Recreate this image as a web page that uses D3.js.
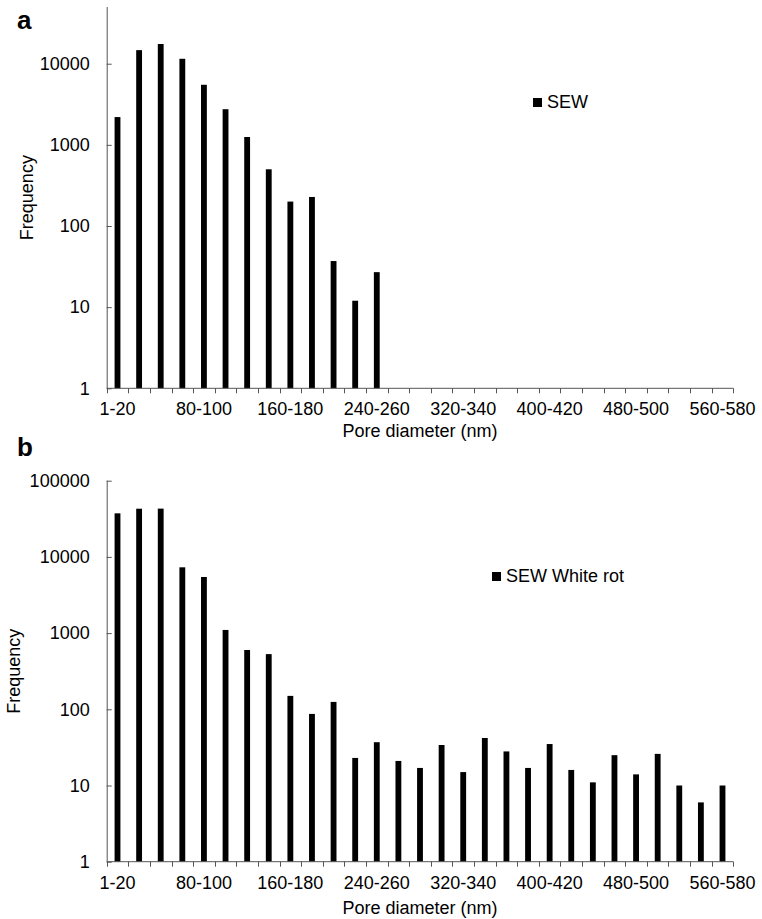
<!DOCTYPE html>
<html>
<head>
<meta charset="utf-8">
<script src="https://cdn.jsdelivr.net/npm/d3@7"></script>
<style>
  body { margin: 0; background: #fff; }
  svg text { font-family: "Liberation Sans", Arial, sans-serif; fill: #000; }
</style>
</head>
<body>
<div id="graph"></div>
<script>
const categories = ['1-20', '20-40', '40-60', '60-80', '80-100', '100-120', '120-140', '140-160',
  '160-180', '180-200', '200-220', '220-240', '240-260', '260-280', '280-300', '300-320',
  '320-340', '340-360', '360-380', '380-400', '400-420', '420-440', '440-460', '460-480',
  '480-500', '500-520', '520-540', '540-560', '560-580']
const shownLabels = ['1-20', '80-100', '160-180', '240-260', '320-340', '400-420', '480-500', '560-580']

// panel a
const sewValues = [2200, 14700, 17500, 11500, 5500, 2750, 1250, 500, 200, 228, 37, 12, 27]
const ticksA = [1, 10, 100, 1000, 10000]
// panel b
const whiteRotValues = [37300, 42900, 43000, 7300, 5450, 1100, 600, 530, 150, 87, 125, 23, 37, 21,
  17, 34, 15, 42, 28, 17, 35, 16, 11, 25, 14, 26, 10, 6, 10]
const ticksB = [1, 10, 100, 1000, 10000, 100000]

const width = 762
const height = 919
const fmt = d3.format('d')

const svg = d3.select('#graph').append('svg')
  .attr('width', width)
  .attr('height', height)

const drawPanel = (opt) => {
  const g = svg.append('g')
  const x = d3.scaleBand()
    .domain(categories)
    .range([opt.left, opt.right])
    .padding(0)
  const y = d3.scaleLog()
    .domain([1, opt.yMax])
    .range([opt.bottom, opt.top])
  const barW = x.bandwidth() * 0.27

  g.selectAll('rect.bar')
    .data(opt.values)
    .join('rect')
    .attr('class', 'bar')
    .attr('x', (d, i) => x(categories[i]) + (x.bandwidth() - barW) / 2)
    .attr('y', d => y(d))
    .attr('width', barW)
    .attr('height', d => y(1) - y(d))
    .attr('fill', '#000')

  // y axis
  const yAxis = g.append('g')
    .attr('transform', `translate(${opt.left},0)`)
    .call(d3.axisLeft(y).tickValues(opt.ticks).tickFormat(fmt).tickSize(-5).tickPadding(17))
  yAxis.select('.domain').attr('d', `M0.5,${opt.top}V${opt.bottom}`).attr('stroke', '#555')
  yAxis.selectAll('.tick line').attr('stroke', '#555')
  yAxis.selectAll('.tick text').attr('font-size', 18).attr('fill', '#000')

  // x axis, ticks on category boundaries
  const xAxis = g.append('g')
    .attr('transform', `translate(0,${opt.bottom})`)
  xAxis.append('line')
    .attr('x1', opt.left).attr('x2', opt.right)
    .attr('stroke', '#555')
  xAxis.selectAll('line.tk')
    .data(d3.range(categories.length + 1))
    .join('line')
    .attr('class', 'tk')
    .attr('x1', i => Math.round(opt.left + i * x.step()) + 0.5)
    .attr('x2', i => Math.round(opt.left + i * x.step()) + 0.5)
    .attr('y1', 0).attr('y2', 5)
    .attr('stroke', '#555')
  xAxis.selectAll('text')
    .data(shownLabels)
    .join('text')
    .attr('x', d => x(d) + x.bandwidth() / 2)
    .attr('y', opt.tickLabelDy)
    .attr('text-anchor', 'middle')
    .attr('font-size', 18)
    .text(d => d)

  svg.append('text')
    .attr('x', (opt.left + opt.right) / 2)
    .attr('y', opt.xTitleY)
    .attr('text-anchor', 'middle')
    .attr('font-size', 18)
    .text('Pore diameter (nm)')

  svg.append('text')
    .attr('transform', `translate(${opt.yTitleX},${(opt.top + opt.bottom) / 2}) rotate(-90)`)
    .attr('text-anchor', 'middle')
    .attr('font-size', 18)
    .text('Frequency')

  // legend
  svg.append('rect')
    .attr('x', opt.legendX).attr('y', opt.legendY - 10)
    .attr('width', 9).attr('height', 9)
    .attr('fill', '#000')
  svg.append('text')
    .attr('x', opt.legendX + 14).attr('y', opt.legendY)
    .attr('font-size', 18)
    .text(opt.name)

  svg.append('text')
    .attr('x', 17).attr('y', opt.letterY)
    .attr('font-size', 26)
    .attr('font-weight', 'bold')
    .text(opt.letter)
}

drawPanel({
  letter: 'a', letterY: 29, name: 'SEW', values: sewValues, ticks: ticksA,
  yMax: 50000, left: 106.7, right: 733.3, top: 7, bottom: 388.3,
  tickLabelDy: 27, xTitleY: 437, yTitleX: 33, legendX: 533, legendY: 108
})

drawPanel({
  letter: 'b', letterY: 456, name: 'SEW White rot', values: whiteRotValues, ticks: ticksB,
  yMax: 100000, left: 106.7, right: 733.3, top: 480.7, bottom: 861.7,
  tickLabelDy: 27, xTitleY: 914, yTitleX: 20, legendX: 492, legendY: 582
})
</script>
</body>
</html>
